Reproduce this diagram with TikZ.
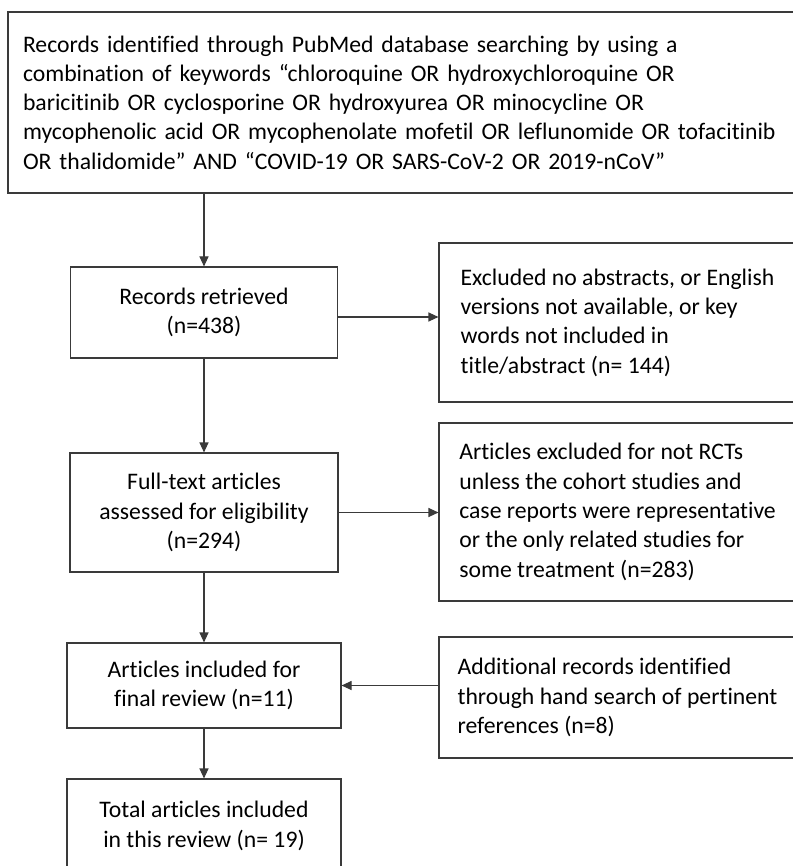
\documentclass[tikz,border=0pt]{standalone}
\usepackage{fontspec}
\setmainfont[Ligatures=NoCommon]{Carlito}
\usetikzlibrary{arrows.meta,positioning}
\definecolor{ln}{HTML}{3A3A3A}

\begin{document}
\begin{tikzpicture}[x=1pt,y=-1pt,
  box/.style={draw=ln,line width=1.1pt,inner sep=0pt,align=center,
              font=\fontsize{23.7}{29.3}\selectfont},
  side/.style={box,align=left,minimum width=357pt},
  ar/.style={-{Triangle[length=10pt,width=9pt]},ln,line width=1.1pt}]
\useasboundingbox (0,0) rectangle (792,866);
\node[box,align=left,text width=758pt,minimum width=788pt,minimum height=181pt] (search) at (402,102.5)
  {Records identified through PubMed database searching by using a\\
   combination of keywords “chloroquine OR hydroxychloroquine OR\\
   baricitinib OR cyclosporine OR hydroxyurea OR minocycline OR\\
   mycophenolic acid OR mycophenolate mofetil OR leflunomide OR tofacitinib\\
   OR thalidomide” AND “COVID-19 OR SARS-CoV-2 OR 2019-nCoV”};
\node[box,minimum width=267pt,minimum height=91pt] (retr) at (204,312.5) {Records retrieved\\(n=438)};
\node[box,minimum width=268pt,minimum height=119pt] (full) at (204,512.5) {Full-text articles\\assessed for eligibility\\(n=294)};
\node[box,minimum width=274pt,minimum height=85pt] (incl) at (204,685.5) {Articles included for\\final review (n=11)};
\node[box,minimum width=274pt,minimum height=94pt] (total) at (204,826) {Total articles included\\in this review (n= 19)};
\node[side,minimum height=159pt] (excl1) at (617.5,322.5) {Excluded no abstracts, or English\\versions not available, or key\\words not included in\\title/abstract (n= 144)};
\node[side,minimum height=178pt] (excl2) at (617.5,512) {Articles excluded for not RCTs\\unless the cohort studies and\\case reports were representative\\or the only related studies for\\some treatment (n=283)};
\node[side,minimum height=121pt] (hand) at (617.5,697.5) {Additional records identified\\through hand search of pertinent\\references (n=8)};
\draw[ar] (retr.north |- search.south)--(retr.north); \draw[ar] (retr)--(full); \draw[ar] (full)--(incl);
\draw[ar] (incl)--(total);
\draw[ar] ([yshift=-4.5pt]retr.east)--([yshift=-4.5pt]retr.east -| excl1.west); \draw[ar] (full)--(full -| excl2.west);
\draw[ar] (hand.west |- incl.east)--(incl.east);
\end{tikzpicture}
\end{document}
